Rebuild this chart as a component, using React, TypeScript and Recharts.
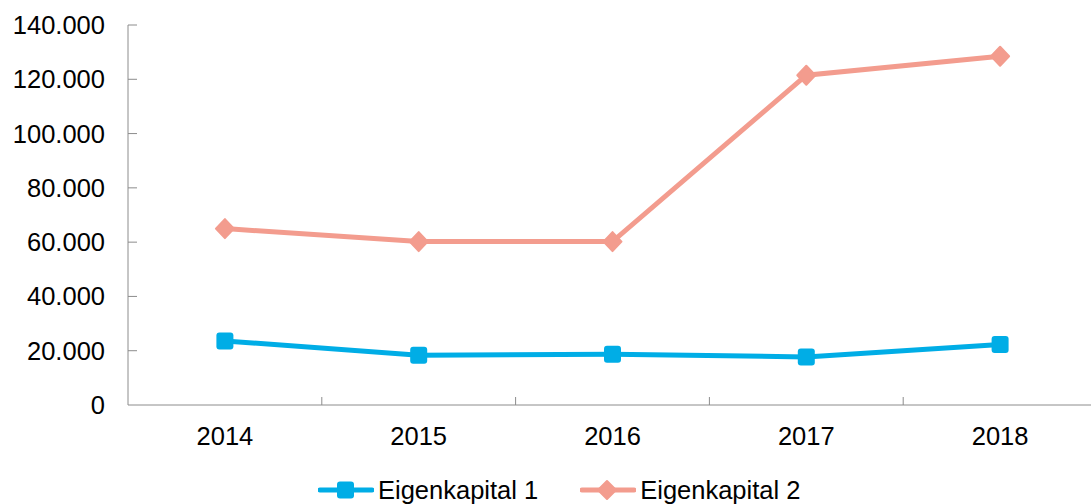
import React from 'react';
import { LineChart, Line, XAxis, YAxis, Legend } from 'recharts';

const years = ['2014', '2015', '2016', '2017', '2018'];
const eigenkapital1 = [23600, 18300, 18700, 17700, 22300];
const eigenkapital2 = [65000, 60200, 60200, 121500, 128500];
const yTicks = [0, 20000, 40000, 60000, 80000, 100000, 120000, 140000];
const xTicks = [0, 0.5, 1, 1.5, 2, 2.5, 3, 3.5, 4];

const data = years.map((year, i) => ({ idx: i, year, e1: eigenkapital1[i], e2: eigenkapital2[i] }));

const BLUE = '#00ADE6';
const SALMON = '#F39C8E';
const AXIS = '#8C8C8C';
const FONT = '"Liberation Sans", Arial, sans-serif';
const FS = 25.5;
const fmt = (v: number) => String(v).replace(/\B(?=(\d{3})+(?!\d))/g, '.');

const Y_MARGIN = 23;
const X_MARGIN = 31;

const YTick = (props: any) => {
  const { x, y, payload } = props;
  const ax = x + Y_MARGIN;
  return (
    <g>
      {payload.value !== 0 && <line x1={ax} x2={ax + 9} y1={y} y2={y} stroke={AXIS} />}
      <text x={x} y={y} dy="0.355em" textAnchor="end" fontSize={FS} fill="#000" fontFamily={FONT}>
        {fmt(payload.value)}
      </text>
    </g>
  );
};

const XTick = (props: any) => {
  const { x, y, payload } = props;
  const v = payload.value;
  const axisY = y - X_MARGIN;
  if (Number.isInteger(v)) {
    return (
      <text x={x} y={y} dy="0.355em" textAnchor="middle" fontSize={FS} fill="#000" fontFamily={FONT}>
        {years[v]}
      </text>
    );
  }
  return <line x1={x} x2={x} y1={axisY} y2={axisY - 8} stroke={AXIS} />;
};

const SquareDot = (p: any) => (
  <rect key={`s${p.index}`} x={p.cx - 8.5} y={p.cy - 8.5} width={17} height={17} rx={3} fill={BLUE} />
);
const DiamondDot = (p: any) => (
  <path
    key={`d${p.index}`}
    d={`M${p.cx},${p.cy - 9.5} L${p.cx + 9},${p.cy} L${p.cx},${p.cy + 9.5} L${p.cx - 9},${p.cy} Z`}
    fill={SALMON}
    stroke={SALMON}
    strokeWidth={2}
    strokeLinejoin="round"
  />
);

const legendItems = [
  { name: 'Eigenkapital 1', color: BLUE, shape: 'square' },
  { name: 'Eigenkapital 2', color: SALMON, shape: 'diamond' },
];

const LegendContent = () => (
  <div style={{ display: 'flex', alignItems: 'center', fontFamily: FONT, fontSize: FS, color: '#000', lineHeight: '30px' }}>
    {legendItems.map((it, i) => (
      <div key={it.name} style={{ display: 'flex', alignItems: 'center', marginLeft: i === 0 ? 0 : 42 }}>
        <svg width={56} height={24} style={{ display: 'block' }}>
          <line x1={2} x2={54} y1={12} y2={12} stroke={it.color} strokeWidth={5} strokeLinecap="round" />
          {it.shape === 'square' ? (
            <rect x={19} y={3.5} width={17} height={17} rx={3} fill={it.color} />
          ) : (
            <path d="M27,3 L36,12 L27,21 L18,12 Z" fill={it.color} stroke={it.color} strokeWidth={2} strokeLinejoin="round" />
          )}
        </svg>
        <span style={{ marginLeft: 4 }}>{it.name}</span>
      </div>
    ))}
  </div>
);

export default function App() {
  return (
    <div style={{ position: 'absolute', left: 0, top: 0, width: 1091, height: 504, overflow: 'hidden', background: '#fff' }}>
      <LineChart width={1100} height={504} data={data} margin={{ top: 25, right: 3, left: 0, bottom: 59 }}>
        <XAxis
          dataKey="idx"
          type="number"
          domain={[-0.5, 4.5]}
          ticks={xTicks}
          interval={0}
          tickSize={0}
          tickLine={false}
          tickMargin={X_MARGIN}
          tick={<XTick />}
          axisLine={{ stroke: AXIS }}
          height={40}
          allowDataOverflow
        />
        <YAxis
          type="number"
          domain={[0, 140000]}
          ticks={yTicks}
          interval={0}
          tickSize={0}
          tickLine={false}
          tickMargin={Y_MARGIN}
          tick={<YTick />}
          axisLine={{ stroke: AXIS }}
          width={128}
          allowDataOverflow
        />
        <Legend
          layout="horizontal"
          verticalAlign="middle"
          align="center"
          content={<LegendContent />}
          wrapperStyle={{ position: 'absolute', top: 475, left: 318, width: 600, height: 30 }}
        />
        <Line dataKey="e1" name="Eigenkapital 1" stroke={BLUE} strokeWidth={5} dot={SquareDot} activeDot={false} isAnimationActive={false} type="linear" />
        <Line dataKey="e2" name="Eigenkapital 2" stroke={SALMON} strokeWidth={5} dot={DiamondDot} activeDot={false} isAnimationActive={false} type="linear" />
      </LineChart>
    </div>
  );
}
